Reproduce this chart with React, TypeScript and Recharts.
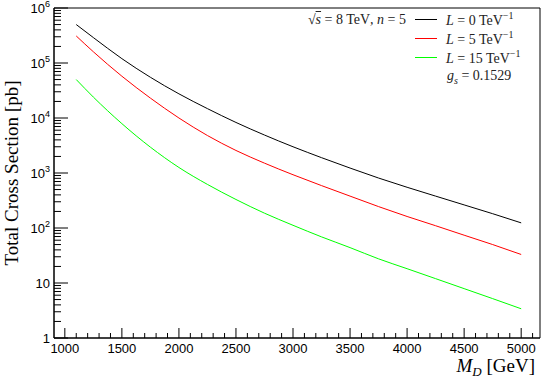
import { LineChart, Line, XAxis, YAxis, ReferenceArea, Legend, Label } from 'recharts'

// M_D values (GeV) and total cross sections (pb)
const massPoints = [1100, 1250, 1500, 1750, 2000, 2250, 2500, 2750, 3000, 3250, 3500, 3750, 4000, 4250, 4500, 4750, 5000]
const sigmaL0 = [5.0e5, 2.9e5, 1.2e5, 5.5e4, 2.75e4, 1.48e4, 8300, 4900, 3000, 1900, 1230, 810, 550, 380, 263, 182, 124]
const sigmaL5 = [3.1e5, 1.6e5, 5.75e4, 2.3e4, 1.0e4, 4800, 2570, 1510, 930, 590, 380, 245, 162, 110, 74, 50, 33]
const sigmaL15 = [5.0e4, 2.4e4, 7900, 2950, 1260, 620, 330, 186, 112, 69, 44, 27.5, 18.2, 12, 7.9, 5.2, 3.4]

const lengthScales = [0, 5, 15]
const seriesColors = ['#000000', '#ff0000', '#00ff00']
const seriesKeys = ['l0', 'l5', 'l15']

const xDomain = [905, 5165]
const yDomain = [1, 1e6]
const yDecades = [1, 10, 100, 1000, 1e4, 1e5, 1e6]

const chartData = massPoints.map((m, i) => ({
  mass: m,
  l0: sigmaL0[i],
  l5: sigmaL5[i],
  l15: sigmaL15[i],
}))

// tick positions: majors every 500 GeV, minors every 100 GeV
const xTicks: number[] = []
for (let m = 1000; m <= 5100; m += 100) xTicks.push(m)
const yTicks: number[] = []
yDecades.forEach((d) => {
  for (let k = 1; k <= 9; k++) if (d * k <= yDomain[1]) yTicks.push(d * k)
})

const TICK_MARGIN = 4
const sans = '"Liberation Sans", Arial, sans-serif'
const serif = '"Liberation Serif", "Times New Roman", serif'

const XTick = ({ x, y, payload }: any) => {
  const v = payload.value
  const major = v % 500 === 0
  const ay = y - TICK_MARGIN
  return (
    <g>
      <line x1={x} x2={x} y1={ay} y2={ay - (major ? 10 : 5)} stroke="#000" />
      {major && (
        <text x={x} y={ay + 15} textAnchor="middle" fontSize={13} fontFamily={sans} fill="#000">
          {v}
        </text>
      )}
    </g>
  )
}

const YTick = ({ x, y, payload }: any) => {
  const v = payload.value
  const exp = Math.round(Math.log10(v))
  const major = Math.abs(v - Math.pow(10, exp)) < 1e-6 * v
  const ax = x + TICK_MARGIN
  return (
    <g>
      <line x1={ax} x2={ax + (major ? 14 : 7)} y1={y} y2={y} stroke="#000" />
      {major && (
        <text x={ax - 4} y={y + 5} textAnchor="end" fontSize={13} fontFamily={sans} fill="#000">
          {exp < 2 ? (
            String(v)
          ) : (
            <>
              10<tspan dy={-6} fontSize={9}>{exp}</tspan>
            </>
          )}
        </text>
      )}
    </g>
  )
}

const XTitle = ({ viewBox }: any) => (
  <text x={viewBox.x + viewBox.width - 5} y={viewBox.y + 34} textAnchor="end" fontSize={19} fontFamily={serif} fill="#000">
    <tspan fontStyle="italic">M</tspan>
    <tspan fontStyle="italic" fontSize={13} dy={4}>D</tspan>
    <tspan dy={-4}> [GeV]</tspan>
  </text>
)

const YTitle = ({ viewBox }: any) => {
  const cx = viewBox.x + 18
  const cy = viewBox.y + viewBox.height / 2
  return (
    <text x={cx} y={cy} transform={`rotate(-90, ${cx}, ${cy})`} textAnchor="middle" fontSize={19} fontFamily={serif} fill="#000">
      Total Cross Section [pb]
    </text>
  )
}

const renderLegend = (props: any) => {
  const payload: any[] = props.payload || []
  const rowStyle = { display: 'flex', alignItems: 'center', height: 19 }
  return (
    <div style={{ fontFamily: serif, fontSize: 14, color: '#222' }}>
      {seriesKeys.map((k, i) => {
        const entry = payload.find((p) => p.dataKey === k)
        const color = entry ? entry.color : seriesColors[i]
        return (
          <div key={k} style={rowStyle}>
            <div style={{ width: 120, textAlign: 'right', whiteSpace: 'nowrap' }}>
              {i === 0 && (
                <span>
                  √<span style={{ textDecoration: 'overline', fontStyle: 'italic' }}>s</span> = 8 TeV<span style={{ fontStyle: 'italic' }}>, n</span> = 5
                </span>
              )}
            </div>
            <div style={{ width: 22, height: 0, borderTop: `1.5px solid ${color}`, marginLeft: 9, marginRight: 9 }} />
            <div style={{ whiteSpace: 'nowrap' }}>
              <i>L</i> = {lengthScales[i]} TeV<sup style={{ fontSize: 10 }}>−1</sup>
            </div>
          </div>
        )
      })}
      <div style={{ ...rowStyle, paddingLeft: 161 }}>
        <span style={{ whiteSpace: 'nowrap' }}>
          <i>g</i>
          <sub style={{ fontSize: 10, fontStyle: 'italic' }}>s</sub> = 0.1529
        </span>
      </div>
    </div>
  )
}

export default function App() {
  return (
    <div style={{ width: 545, height: 378, background: '#fff' }}>
      <style>{'body{margin:0}'}</style>
      <LineChart width={545} height={378} data={chartData} margin={{ top: 8, right: 5, bottom: 0, left: 0 }}>
        <XAxis
          dataKey="mass"
          type="number"
          domain={xDomain}
          ticks={xTicks}
          interval={0}
          tickSize={0}
          tickMargin={TICK_MARGIN}
          tickLine={false}
          tick={<XTick />}
          axisLine={{ stroke: '#000' }}
          height={40}
          allowDataOverflow
        >
          <Label content={<XTitle />} />
        </XAxis>
        <YAxis
          type="number"
          scale="log"
          domain={yDomain}
          ticks={yTicks}
          interval={0}
          tickSize={0}
          tickMargin={TICK_MARGIN}
          tickLine={false}
          tick={<YTick />}
          axisLine={{ stroke: '#000' }}
          width={54}
          allowDataOverflow
        >
          <Label content={<YTitle />} />
        </YAxis>
        <ReferenceArea x1={xDomain[0]} x2={xDomain[1]} y1={yDomain[0]} y2={yDomain[1]} fill="none" stroke="#000" strokeWidth={1} ifOverflow="visible" />
        {seriesKeys.map((k, i) => (
          <Line
            key={k}
            dataKey={k}
            name={`L = ${lengthScales[i]}`}
            type="monotone"
            stroke={seriesColors[i]}
            strokeWidth={1}
            dot={false}
            isAnimationActive={false}
          />
        ))}
        <Legend
          layout="horizontal"
          verticalAlign="middle"
          align="center"
          content={renderLegend}
          wrapperStyle={{ top: 10, left: 286, width: 250 }}
        />
      </LineChart>
    </div>
  )
}
